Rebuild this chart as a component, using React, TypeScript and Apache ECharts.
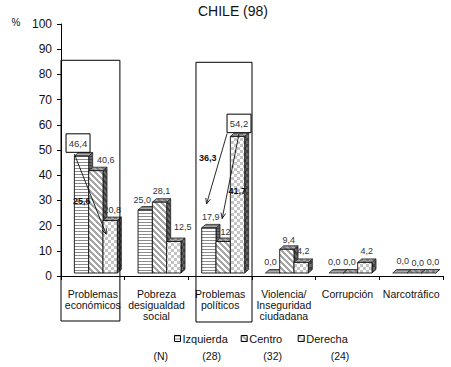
import React, { useEffect, useRef } from "react";
import * as echarts from "echarts";

// ---- data ----
const categories = [
  "Problemas\neconómicos",
  "Pobreza\ndesigualdad\nsocial",
  "Problemas\npolíticos",
  "Violencia/\nInseguridad\nciudadana",
  "Corrupción",
  "Narcotráfico",
];
const groups = ["Izquierda", "Centro", "Derecha"];
const izquierda = [46.4, 25.0, 17.9, 0.0, 0.0, 0.0];
const centro = [40.6, 28.1, 12.5, 9.4, 0.0, 0.0];
const derecha = [20.8, 12.5, 54.2, 4.2, 4.2, 0.0];
const groupN = [28, 32, 24];
const yMin = 0;
const yMax = 100;
const yStep = 10;
const titleText = "CHILE (98)";

// values shown inside a framed callout: [series, category]
const boxedValues: [number, number][] = [
  [0, 0],
  [2, 2],
];
// gaps drawn as arrows between two bars: [fromSeries, toSeries, category]
const gapArrows: [number, number, number][] = [
  [0, 2, 0],
  [2, 0, 2],
  [2, 1, 2],
];
// categories highlighted with a tall frame
const framedCategories = [0, 2];

// ---- layout ----
const FONT = "'Liberation Sans', Arial, sans-serif";
const GRID = { left: 61, top: 24, width: 382, height: 252 };
const BAR_W = 0.225;
const BAR_START = 0.21;
const DX = 4;
const DY = 3.5;
const LIFT = 3;
const LEGEND_X = [174, 240.7, 297.7];
const N_X = [211.7, 272.7, 340];
const FRAME_LAYOUT = [
  { from: 0.0, to: 0.925, topValue: 85.6, bottom: 321 },
  { from: 0.12, to: 1.0, topValue: 84.8, bottom: 322 },
];
const CALLOUT_DX = [-3.5, 1.5];
// arrow layout: start/end offsets and label position along the arrow
const ARROW_LAYOUT = [
  { start: "barLeftTop", sdx: 0, sdy: -2, edx: -4, edy: 13.6, t: 0.6, ldx: -11.6, ldy: -1 },
  { start: "boxLeft", sdx: 0, sdy: 1, edx: -2.3, edy: -24, t: 0.35, ldx: -12, ldy: 0 },
  { start: "boxMid", sdx: 0, sdy: 1, edx: -1, edy: -23, t: 0.67, ldx: 9.4, ldy: 0 },
];
const LABEL_NUDGE: Record<string, [number, number]> = {
  "1-0": [8, 0],
  "2-1": [7, -4],
  "0-1": [-5, 1],
  "1-2": [4, 1],
  "0-3": [-4, 0],
  "1-3": [0, 2],
  "0-4": [-4, 0],
  "1-4": [-3, 0],
  "0-5": [1, -1],
  "1-5": [1.5, 1],
  "2-5": [2.5, 0],
};

const fmt = (v: number) => v.toFixed(1).replace(".", ",");

type Kind = "h" | "d" | "c";
function makePattern(kind: Kind, bg: string, fg: string) {
  const size = kind === "h" ? 3 : 6;
  const c = document.createElement("canvas");
  c.width = size;
  c.height = size;
  const g = c.getContext("2d")!;
  g.fillStyle = bg;
  g.fillRect(0, 0, size, size);
  g.fillStyle = fg;
  if (kind === "h") {
    g.fillRect(0, 0, size, 1);
  } else if (kind === "d") {
    for (let i = 0; i < size; i++) {
      for (let k = 0; k < 3; k++) g.fillRect((i + k) % size, i, 1, 1);
    }
  } else {
    g.fillRect(0, 0, 3, 3);
    g.fillRect(3, 3, 3, 3);
  }
  return { image: c, repeat: "repeat", imageWidth: size, imageHeight: size } as any;
}

export default function App() {
  const ref = useRef<HTMLDivElement>(null);

  useEffect(() => {
    if (!ref.current) return;
    const chart = echarts.init(ref.current, undefined, { renderer: "svg" });
    const seriesData = [izquierda, centro, derecha];
    const kinds: Kind[] = ["h", "d", "c"];
    const frontPat = kinds.map((k) =>
      makePattern(k, "#ffffff", k === "h" ? "#8c8c8c" : k === "d" ? "#a6a6a6" : "#c4c4c4")
    );
    const topPat = kinds.map((k) => makePattern(k, "#a8a8a8", "#808080"));
    const sidePat = kinds.map((k) => makePattern(k, "#6a6a6a", "#404040"));
    const isBoxed = (s: number, i: number) => boxedValues.some(([bs, bi]) => bs === s && bi === i);

    const renderBars = (s: number) => (params: any, api: any) => {
      const cat = api.value(0);
      const v = api.value(1);
      const base = api.coord([cat, 0]);
      const top = api.coord([cat, v]);
      const cw = api.size([1, 0])[0];
      const w = cw * BAR_W;
      const x0 = base[0] - cw / 2 + cw * BAR_START + s * w;
      const yb = base[1] - LIFT;
      const yt = top[1] - LIFT;
      const children: any[] = [
        {
          type: "polygon",
          shape: { points: [[x0 + w, yt], [x0 + w + DX, yt - DY], [x0 + w + DX, yb - DY], [x0 + w, yb]] },
          style: { fill: sidePat[s], stroke: "#222", lineWidth: 0.8 },
        },
        {
          type: "polygon",
          shape: { points: [[x0, yt], [x0 + DX, yt - DY], [x0 + w + DX, yt - DY], [x0 + w, yt]] },
          style: { fill: topPat[s], stroke: "#222", lineWidth: 0.8 },
        },
      ];
      if (yb - yt > 0.5) {
        children.push({
          type: "rect",
          shape: { x: x0, y: yt, width: w, height: yb - yt },
          style: { fill: frontPat[s], stroke: "#111", lineWidth: 0.9 },
        });
      }
      if (!isBoxed(s, cat)) {
        const n = LABEL_NUDGE[`${s}-${cat}`] || [0, 0];
        children.push({
          type: "text",
          style: {
            text: fmt(v),
            x: x0 + w / 2 + 2 + n[0],
            y: yt - 11 + n[1],
            fill: "#333",
            fontSize: 9,
            fontFamily: FONT,
            align: "center",
            verticalAlign: "middle",
          },
        });
      }
      return { type: "group", children };
    };

    chart.setOption({
      animation: false,
      backgroundColor: "#ffffff",
      title: {
        text: titleText,
        left: 198,
        top: 4,
        padding: 0,
        textStyle: { fontSize: 14, fontWeight: "normal", color: "#111", fontFamily: FONT },
      },
      legend: groups.map((g, s) => ({
        data: [{ name: g, itemStyle: { color: frontPat[s], borderColor: "#000", borderWidth: 1 } }],
        left: LEGEND_X[s],
        top: 333,
        padding: 0,
        itemWidth: 6,
        itemHeight: 6,
        icon: "rect",
        selectedMode: false,
        textStyle: { fontSize: 11, fontFamily: FONT, color: "#111", padding: [0, 0, 0, -3] },
      })),
      grid: { ...GRID },
      xAxis: {
        type: "category",
        data: categories,
        boundaryGap: true,
        axisLine: { lineStyle: { color: "#000", width: 1 } },
        axisTick: { show: true, length: 4, alignWithLabel: false, lineStyle: { color: "#000" } },
        axisLabel: { interval: 0, fontSize: 10.5, lineHeight: 11, margin: 12, color: "#111", fontFamily: FONT },
      },
      yAxis: {
        type: "value",
        min: yMin,
        max: yMax,
        interval: yStep,
        axisLine: { show: true, lineStyle: { color: "#000", width: 1 } },
        axisTick: { show: true, length: 4, lineStyle: { color: "#000" } },
        splitLine: { show: false },
        axisLabel: { fontSize: 12, margin: 9, color: "#111", fontFamily: FONT },
      },
      series: groups.map((g, s) => ({
        name: g,
        type: "custom",
        renderItem: renderBars(s),
        itemStyle: { color: frontPat[s] },
        encode: { x: 0, y: 1 },
        data: seriesData[s].map((v, i) => [i, v]),
      })),
    });

    // annotations positioned through the chart's own scales
    const px = (cat: number, v: number) => chart.convertToPixel({ gridIndex: 0 }, [cat, v]) as number[];
    const cw = px(1, 0)[0] - px(0, 0)[0];
    const bar = (s: number, cat: number) => {
      const c = px(cat, seriesData[s][cat]);
      const w = cw * BAR_W;
      const x0 = c[0] - cw / 2 + cw * BAR_START + s * w;
      return { x0, w, cx: x0 + w / 2, yt: c[1] - LIFT };
    };

    const graphics: any[] = [];
    framedCategories.forEach((cat, k) => {
      const L = FRAME_LAYOUT[k];
      const left = px(cat, 0)[0] - cw / 2;
      const y0 = px(cat, L.topValue)[1];
      graphics.push({
        type: "rect",
        shape: { x: left + L.from * cw, y: y0, width: (L.to - L.from) * cw, height: L.bottom - y0 },
        style: { fill: "none", stroke: "#000", lineWidth: 1 },
        z: 10,
      });
    });

    const boxes = boxedValues.map(([s, cat], k) => {
      const b = bar(s, cat);
      const bw = 24;
      const bh = 18.5;
      const cx = b.cx + CALLOUT_DX[k];
      const cy = b.yt - 13;
      graphics.push({
        type: "rect",
        shape: { x: cx - bw / 2, y: cy - bh / 2, width: bw, height: bh },
        style: { fill: "#fff", stroke: "#000", lineWidth: 1 },
        z: 11,
      });
      graphics.push({
        type: "text",
        style: {
          text: fmt(seriesData[s][cat]),
          x: cx,
          y: cy,
          fill: "#333",
          fontSize: 9.5,
          fontFamily: FONT,
          align: "center",
          verticalAlign: "middle",
        },
        z: 12,
      });
      return { left: cx - bw / 2, mid: cx, bottom: cy + bh / 2, s, cat };
    });

    gapArrows.forEach(([fs, ts, cat], k) => {
      const A = ARROW_LAYOUT[k];
      const from = bar(fs, cat);
      const to = bar(ts, cat);
      const box = boxes.find((b) => b.s === fs && b.cat === cat);
      let sx = from.x0;
      let sy = from.yt;
      if (A.start === "boxLeft" && box) {
        sx = box.left;
        sy = box.bottom;
      } else if (A.start === "boxMid" && box) {
        sx = box.mid;
        sy = box.bottom;
      }
      sx += A.sdx;
      sy += A.sdy;
      const ex = to.cx + A.edx;
      const ey = to.yt + A.edy;
      const a = Math.atan2(ey - sy, ex - sx);
      const hl = 6;
      graphics.push({
        type: "line",
        shape: { x1: sx, y1: sy, x2: ex, y2: ey },
        style: { stroke: "#111", lineWidth: 0.9 },
        z: 13,
      });
      graphics.push({
        type: "polyline",
        shape: {
          points: [
            [ex - hl * Math.cos(a - 0.4), ey - hl * Math.sin(a - 0.4)],
            [ex, ey],
            [ex - hl * Math.cos(a + 0.4), ey - hl * Math.sin(a + 0.4)],
          ],
        },
        style: { stroke: "#111", lineWidth: 0.9, fill: "none" },
        z: 13,
      });
      const gap = Math.round((seriesData[fs][cat] - seriesData[ts][cat]) * 10) / 10;
      graphics.push({
        type: "text",
        style: {
          text: fmt(gap),
          x: sx + (ex - sx) * A.t + A.ldx,
          y: sy + (ey - sy) * A.t + A.ldy,
          fill: "#111",
          fontSize: 9,
          fontWeight: "bold",
          fontFamily: FONT,
          align: "center",
          verticalAlign: "middle",
        },
        z: 14,
      });
    });

    graphics.push({
      type: "text",
      style: { text: "%", x: 16, y: 22, fill: "#111", fontSize: 10, fontFamily: FONT, align: "center", verticalAlign: "middle" },
    });
    graphics.push({
      type: "text",
      style: { text: "(N)", x: 160.7, y: 356, fill: "#111", fontSize: 10.5, fontFamily: FONT, align: "center", verticalAlign: "middle" },
    });
    groupN.forEach((n, i) => {
      graphics.push({
        type: "text",
        style: { text: `(${n})`, x: N_X[i], y: 356, fill: "#111", fontSize: 10.5, fontFamily: FONT, align: "center", verticalAlign: "middle" },
      });
    });

    chart.setOption({ graphic: graphics });

    return () => chart.dispose();
  }, []);

  return (
    <div
      ref={ref}
      style={{ position: "fixed", left: 0, top: 0, width: 451, height: 367, background: "#fff" }}
    />
  );
}
